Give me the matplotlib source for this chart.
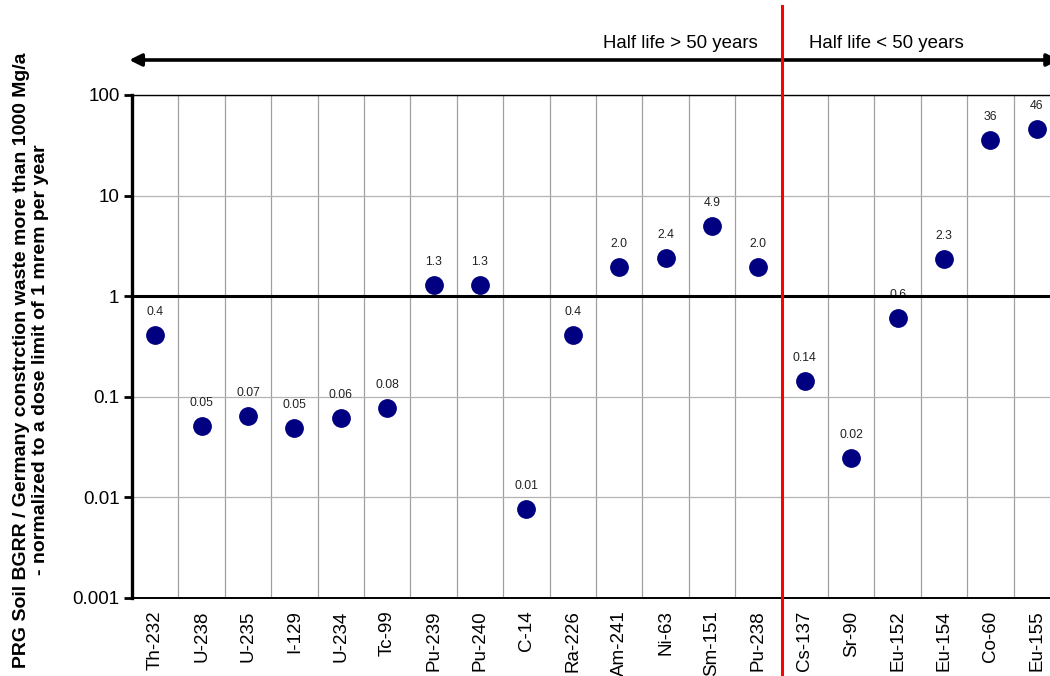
import matplotlib.pyplot as plt
import matplotlib.transforms as mtransforms
import numpy as np

plt.rcParams["font.family"] = ["Liberation Sans", "DejaVu Sans"]

nuclides = ["Th-232", "U-238", "U-235", "I-129", "U-234", "Tc-99", "Pu-239",
            "Pu-240", "C-14", "Ra-226", "Am-241", "Ni-63", "Sm-151", "Pu-238",
            "Cs-137", "Sr-90", "Eu-152", "Eu-154", "Co-60", "Eu-155"]
ratios = [0.41, 0.051, 0.065, 0.049, 0.061, 0.077, 1.29,
          1.29, 0.0076, 0.41, 1.96, 2.4, 4.95, 1.96,
          0.143, 0.0247, 0.61, 2.34, 35.7, 46.0]
value_labels = ["0.4", "0.05", "0.07", "0.05", "0.06", "0.08", "1.3",
                "1.3", "0.01", "0.4", "2.0", "2.4", "4.9", "2.0",
                "0.14", "0.02", "0.6", "2.3", "36", "46"]
ytick_values = [0.001, 0.01, 0.1, 1, 10, 100]
ytick_labels = ["0.001", "0.01", "0.1", "1", "10", "100"]
n_long_lived = 14  # first 14 nuclides: half life > 50 years

fig = plt.figure(figsize=(10.5, 6.76), dpi=100)
ax = fig.add_axes([132 / 1050, 1 - 598 / 676, 928 / 1050, 503 / 676])

x = np.arange(len(nuclides))
ax.plot(x, ratios, linestyle="none", marker="o", markersize=12.5,
        color="#000080", zorder=5, clip_on=False)
for xi, yi, lab in zip(x, ratios, value_labels):
    ax.annotate(lab, (xi, yi), xytext=(0, 16.5), textcoords="offset points",
                ha="center", va="center", fontsize=8.8, color="#222222")

ax.set_yscale("log")
ax.set_ylim(0.001, 100)
ax.set_xlim(-0.5, len(nuclides) - 0.5)

# grid
ax.set_xticks(x)
ax.set_xticklabels(nuclides, rotation=90, fontsize=13.5)
ax.set_xticks(x[:-1] + 0.5, minor=True)
ax.tick_params(axis="x", which="both", length=0, pad=9)
ax.grid(axis="x", which="minor", color="#a0a0a0", linewidth=0.9)
ax.set_yticks(ytick_values)
ax.set_yticklabels(ytick_labels, fontsize=13.5)
ax.yaxis.set_minor_locator(plt.NullLocator())
ax.tick_params(axis="y", which="major", length=6, width=2, direction="out", pad=3)
ax.grid(axis="y", which="major", color="#b4b4b4", linewidth=0.9)
ax.set_axisbelow(True)
ax.axhline(1, color="black", linewidth=2.2, zorder=3)

ax.spines["left"].set_linewidth(2.4)
ax.spines["bottom"].set_linewidth(1.4)
ax.spines["top"].set_linewidth(1.0)
ax.spines["right"].set_visible(False)

# half-life divider
trans = mtransforms.blended_transform_factory(ax.transData, ax.transAxes)
split = n_long_lived - 0.5
ax.plot([split, split], [-0.155, 1.176], transform=trans, color="red",
        linewidth=2.2, clip_on=False, zorder=6)

# arrow
ax.annotate("", xy=(0.999, 1.0696), xytext=(-0.003, 1.0696), xycoords="axes fraction",
            textcoords="axes fraction",
            arrowprops=dict(arrowstyle="<|-|>", color="black", lw=2.6,
                            mutation_scale=18, shrinkA=0, shrinkB=0))
ax.text(split - 0.52, 1.103, "Half life > 50 years", transform=trans,
        ha="right", va="center", fontsize=13.4)
ax.text(split + 0.58, 1.103, "Half life < 50 years", transform=trans,
        ha="left", va="center", fontsize=13.4)

fig.text(31 / 1050, 1 - 360 / 676,
         "PRG Soil BGRR / Germany constrction waste more than 1000 Mg/a\n"
         "- normalized to a dose limit of 1 mrem per year",
         rotation=90, ha="center", va="center", multialignment="center",
         fontsize=14, fontweight="bold", linespacing=1.1)

fig.savefig("out.png", dpi=100)
